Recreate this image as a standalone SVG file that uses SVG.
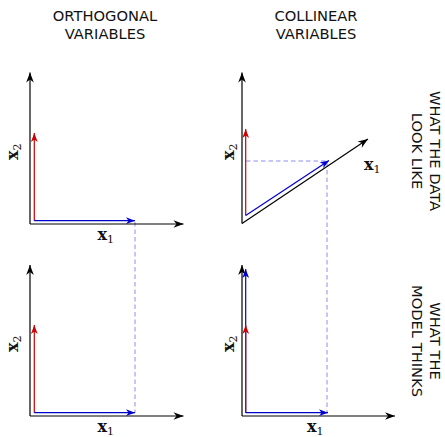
<svg xmlns="http://www.w3.org/2000/svg" width="445" height="437" viewBox="0 0 445 437">
<defs>
<marker id="ak" markerUnits="userSpaceOnUse" markerWidth="12" markerHeight="10" viewBox="-11 -5 12 10" refX="0" refY="0" orient="auto"><path d="M0,0 L-10,-3.8 L-7,0 L-10,3.8 Z" fill="#000"/></marker>
<marker id="ar" markerUnits="userSpaceOnUse" markerWidth="12" markerHeight="10" viewBox="-11 -5 12 10" refX="0" refY="0" orient="auto"><path d="M0,0 L-9,-3.4 L-6.5,0 L-9,3.4 Z" fill="#cc0000"/></marker>
<marker id="ab" markerUnits="userSpaceOnUse" markerWidth="12" markerHeight="10" viewBox="-11 -5 12 10" refX="0" refY="0" orient="auto"><path d="M0,0 L-9,-3.4 L-6.5,0 L-9,3.4 Z" fill="#0000cc"/></marker>
</defs>
<style>
.ax{stroke:#000;stroke-width:1.2;fill:none;marker-end:url(#ak)}
.vr{stroke:#cc0000;stroke-width:1.2;fill:none;marker-end:url(#ar)}
.vb{stroke:#0000cc;stroke-width:1.2;fill:none;marker-end:url(#ab)}
.ds{stroke:#8c8cf0;stroke-width:1;stroke-dasharray:4.5,3;fill:none}
.t{font-family:"DejaVu Sans",sans-serif;font-size:14.7px;fill:#111;text-anchor:middle}
.m{font-family:"DejaVu Serif",serif;font-size:16px;font-weight:bold;fill:#111}
.s{font-family:"DejaVu Serif",serif;font-size:11px;font-weight:normal}
</style>
<g id="titles">
<text class="t" x="105" y="20.5">ORTHOGONAL</text>
<text class="t" x="105" y="38.5">VARIABLES</text>
<text class="t" x="316" y="20.5">COLLINEAR</text>
<text class="t" x="316" y="38.5">VARIABLES</text>
<text class="t" transform="translate(430,151) rotate(90)">WHAT THE DATA</text>
<text class="t" transform="translate(412,151) rotate(90)">LOOK LIKE</text>
<text class="t" transform="translate(430,341) rotate(90)">WHAT THE</text>
<text class="t" transform="translate(412,341) rotate(90)">MODEL THINKS</text>
</g>
<g id="connectors">
<path class="ds" d="M135,222 V413"/>
<path class="ds" d="M246,161 H327 V413"/>
</g>
<g id="panel-tl">
<path class="ax" d="M30,224 V72.5"/>
<path class="ax" d="M30,224 H183.5"/>
<path class="vr" d="M34.3,221 V133"/>
<path class="vb" d="M34.3,220.7 H135"/>
<text class="m" transform="translate(18,160) rotate(-90)">x<tspan class="s" dy="3">2</tspan></text>
<text class="m" x="97.5" y="239.5">x<tspan class="s" dy="3">1</tspan></text>
</g>
<g id="panel-tr">
<path class="ax" d="M242,223.5 V72.5"/>
<path class="ax" d="M242,223.5 L368,139"/>
<path class="vr" d="M245.7,215.5 V129"/>
<path class="vb" d="M245.7,215.5 L329,160.5"/>
<text class="m" transform="translate(234,160) rotate(-90)">x<tspan class="s" dy="3">2</tspan></text>
<text class="m" x="364" y="169.5">x<tspan class="s" dy="3">1</tspan></text>
</g>
<g id="panel-bl">
<path class="ax" d="M30,416 V265"/>
<path class="ax" d="M30,416 H183.5"/>
<path class="vr" d="M34.3,413 V325"/>
<path class="vb" d="M34.3,412.7 H135"/>
<text class="m" transform="translate(18,352) rotate(-90)">x<tspan class="s" dy="3">2</tspan></text>
<text class="m" x="97.5" y="432">x<tspan class="s" dy="3">1</tspan></text>
</g>
<g id="panel-br">
<path class="ax" d="M242,416 V265"/>
<path class="ax" d="M242,416 H395"/>
<path class="vb" d="M245.7,413 V269"/>
<path class="vr" d="M245.7,413 V325"/>
<path class="vb" d="M245.7,412.7 H328"/>
<text class="m" transform="translate(234,352) rotate(-90)">x<tspan class="s" dy="3">2</tspan></text>
<text class="m" x="307" y="432">x<tspan class="s" dy="3">1</tspan></text>
</g>
</svg>
